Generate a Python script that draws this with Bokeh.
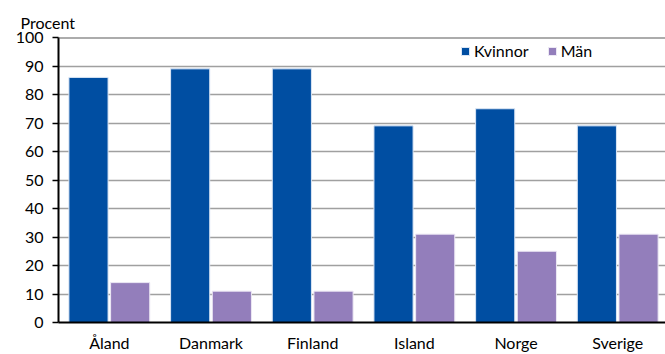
import numpy as np
from bokeh.plotting import figure
from bokeh.models import (Range1d, ColumnDataSource, Legend, LegendItem, Span,
                          FixedTicker, Title)
from bokeh.transform import dodge
from bokeh.embed import file_html
from bokeh.resources import INLINE

categories = ["Åland", "Danmark", "Finland", "Island", "Norge", "Sverige"]
kvinnor = [86, 89, 89, 69, 75, 69]
man = [14, 11, 11, 31, 25, 31]
y_ticks = [0, 10, 20, 30, 40, 50, 60, 70, 80, 90, 100]

FONT = "Lato"
BLUE = "#004EA2"
PURPLE = "#937EBB"

idx = list(range(len(categories)))
src = ColumnDataSource(dict(x=idx, kvinnor=kvinnor, man=man, cat=categories))

p = figure(width=665, height=354, output_backend="svg", toolbar_location=None,
           x_range=Range1d(-0.5, 5.47), y_range=Range1d(0, 100),
           min_border_left=58, min_border_right=0, min_border_top=37,
           min_border_bottom=32)
p.title = Title(text="Procent", align="left", offset=-38,
                text_font=FONT, text_font_size="16px", text_font_style="normal",
                text_color="black", standoff=11)
p.outline_line_color = None
p.background_fill_color = "white"

r1 = p.vbar(x=dodge("x", -0.205, range=p.x_range), top="kvinnor", width=0.385,
            source=src, fill_color=BLUE, line_color="#dbe6f5", line_width=1)
r2 = p.vbar(x=dodge("x", 0.205, range=p.x_range), top="man", width=0.385,
            source=src, fill_color=PURPLE, line_color="#ece8f4", line_width=1)

p.add_layout(Span(location=100, dimension="width", line_color="#5a5a5a", line_width=2))

p.xgrid.grid_line_color = None
p.ygrid.grid_line_color = "#a0a0a0"
p.ygrid.grid_line_width = 1.5
p.ygrid.ticker = FixedTicker(ticks=y_ticks)

p.yaxis.ticker = FixedTicker(ticks=y_ticks)
p.yaxis.axis_line_color = "black"
p.yaxis.axis_line_width = 2
p.yaxis.major_tick_line_color = "black"
p.yaxis.major_tick_line_width = 1.5
p.yaxis.major_tick_out = 6
p.yaxis.major_tick_in = 0
p.yaxis.minor_tick_line_color = None
p.yaxis.major_label_standoff = 9
p.yaxis.major_label_text_font = FONT
p.yaxis.major_label_text_font_size = "16px"
p.yaxis.major_label_text_color = "black"

p.xaxis.ticker = FixedTicker(ticks=idx)
p.xaxis.major_label_overrides = {i: c for i, c in enumerate(categories)}
p.xaxis.axis_line_color = "black"
p.xaxis.axis_line_width = 2
p.xaxis.major_tick_line_color = None
p.xaxis.major_tick_out = 0
p.xaxis.major_tick_in = 0
p.xaxis.minor_tick_line_color = None
p.xaxis.minor_tick_out = 0
p.xaxis.major_label_standoff = 10
p.xaxis.major_label_text_font = FONT
p.xaxis.major_label_text_font_size = "16px"
p.xaxis.major_label_text_color = "black"

legend = Legend(items=[LegendItem(label="Kvinnor", renderers=[r1]),
                       LegendItem(label="Män", renderers=[r2])],
                orientation="horizontal", location=(402, 262),
                label_text_font=FONT, label_text_font_size="16px",
                label_text_color="black", glyph_width=10, glyph_height=10,
                label_standoff=4, spacing=18, padding=4, margin=0,
                border_line_color=None, background_fill_color="white",
                background_fill_alpha=1.0)
p.add_layout(legend, "center")

open("out.html", "w").write(file_html(p, INLINE))
